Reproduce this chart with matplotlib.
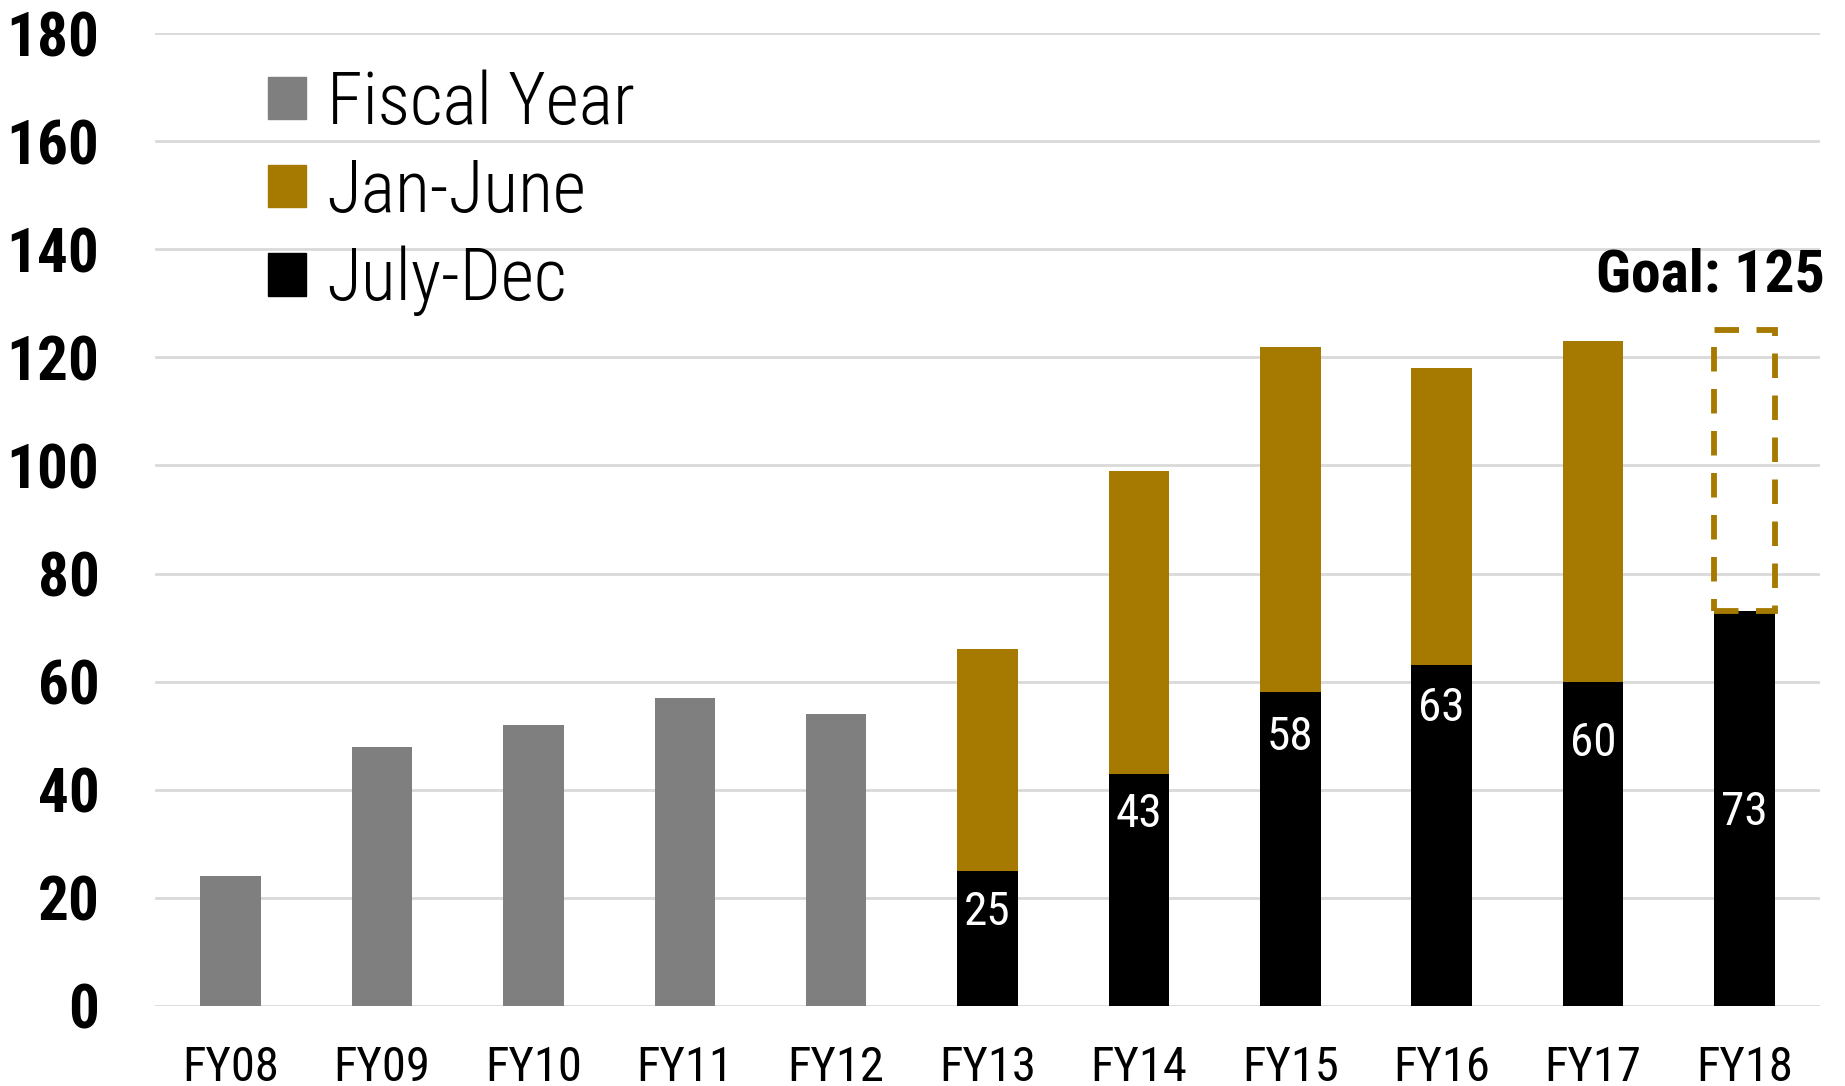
import matplotlib
matplotlib.use("Agg")
import matplotlib.pyplot as plt
from matplotlib.patches import Patch
import numpy as np

# ========================================
# Datos
# ========================================
years = ["FY08", "FY09", "FY10", "FY11", "FY12", "FY13",
         "FY14", "FY15", "FY16", "FY17", "FY18"]
fiscal_year = [24, 48, 52, 57, 54, 0, 0, 0, 0, 0, 0]
july_dec = [0, 0, 0, 0, 0, 25, 43, 58, 63, 60, 73]
jan_june = [0, 0, 0, 0, 0, 41, 56, 64, 55, 63, 0]
goal = 125
label_y = [17.8, 35.9, 50.1, 55.5, 49.0, 36.3]   # altura de las etiquetas blancas

color_fy = "#7f7f7f"
color_jan = "#a67a00"
color_jul = "#000000"

plt.rcParams["font.family"] = ["Roboto Condensed", "DejaVu Sans"]
plt.rcParams["font.stretch"] = "condensed"

fig = plt.figure(figsize=(18.45, 10.86), dpi=100)
ax = fig.add_axes([0.084, 0.0737, 0.9025, 0.8959])

x = np.arange(len(years))
width = 0.4

ax.bar(x, fiscal_year, width, color=color_fy, zorder=3)
ax.bar(x, july_dec, width, color=color_jul, zorder=3)
ax.bar(x, jan_june, width, bottom=july_dec, color=color_jan, zorder=3)

# caja de la meta FY18
last = len(years) - 1
ax.bar(x[last], goal - july_dec[last], width, bottom=july_dec[last],
       fill=False, edgecolor=color_jan, linewidth=4.2,
       linestyle=(0, (4.2, 3)), zorder=4)
ax.text(x[last] + 0.53, 130, f"Goal: {goal}", ha="right", va="bottom",
        fontsize=43, fontweight="semibold", color="black")

# etiquetas blancas
idx = [i for i, v in enumerate(july_dec) if v > 0]
for i, ly in zip(idx, label_y):
    ax.text(x[i], ly - 0.4, str(july_dec[i]), ha="center", va="center",
            color="white", fontsize=34, zorder=5)

ax.set_xlim(-0.5, len(years) - 0.5)
ax.set_ylim(0, 180)
ax.set_yticks(np.arange(0, 181, 20))
ax.set_xticks(x, years)
ax.tick_params(axis="y", length=0, pad=40, labelsize=44)
ax.tick_params(axis="x", length=0, pad=28, labelsize=35)
for lbl in ax.get_yticklabels():
    lbl.set_fontweight("semibold")

ax.grid(axis="y", color="#d9d9d9", linewidth=2, zorder=0)
for s in ax.spines.values():
    s.set_visible(False)

handles = [Patch(color=color_fy), Patch(color=color_jan), Patch(color=color_jul)]
ax.legend(handles, ["Fiscal Year", "Jan-June", "July-Dec"],
          loc="upper left", bbox_to_anchor=(0.068, 0.963), frameon=False,
          prop={"size": 52, "weight": "light"}, handlelength=0.53, handleheight=0.53,
          handletextpad=0.28, labelspacing=0.26, borderpad=0, borderaxespad=0)

plt.savefig("out.png", dpi=100)
plt.close()
